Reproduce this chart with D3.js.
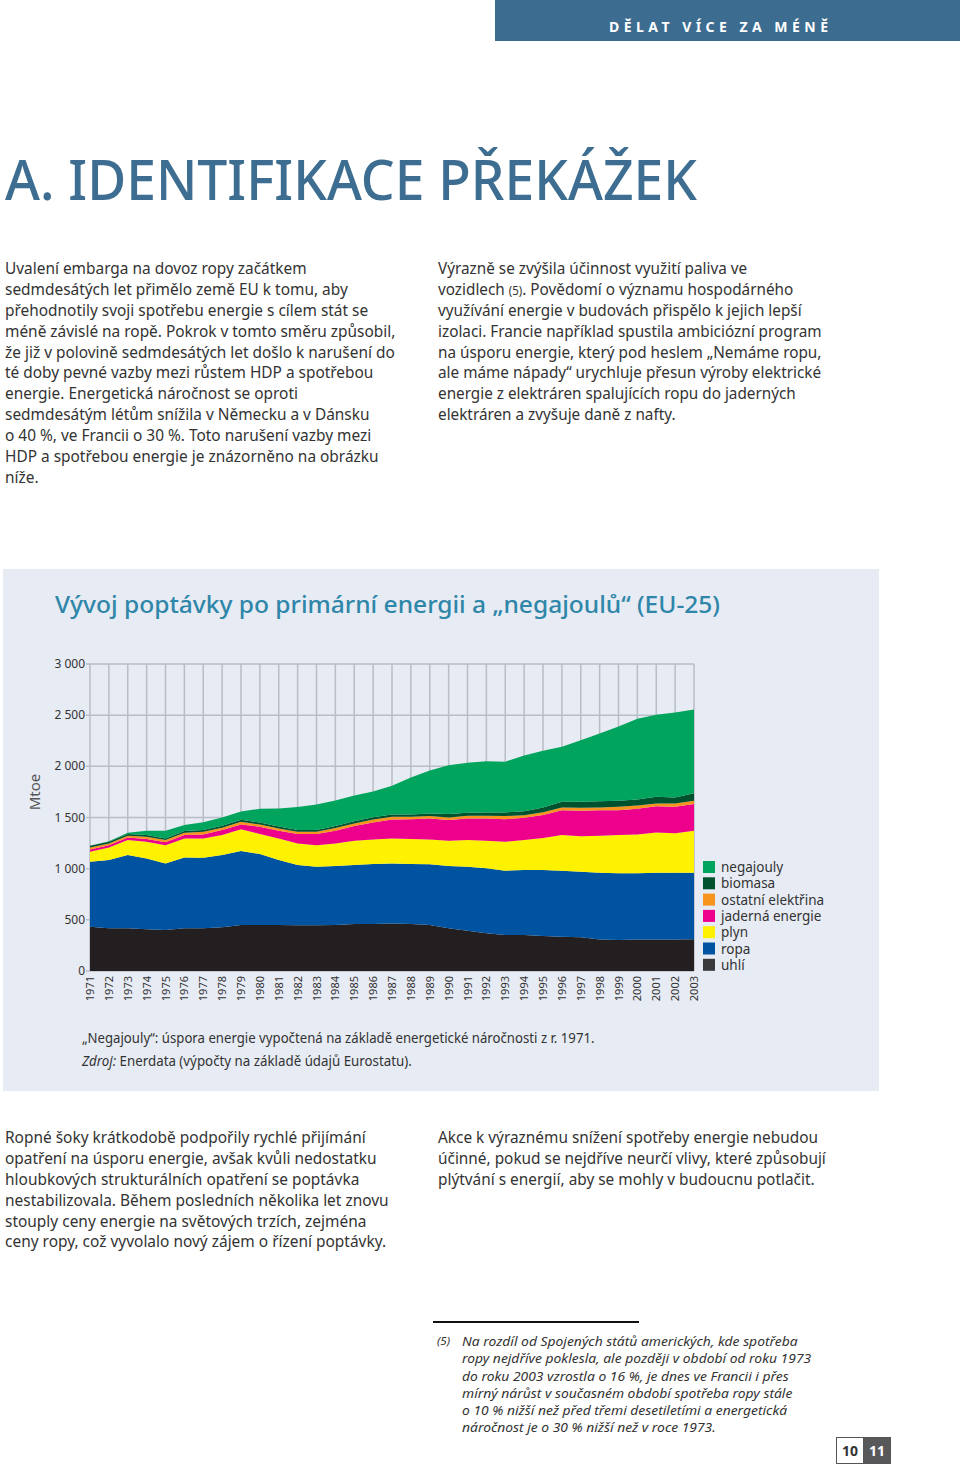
<!DOCTYPE html>
<html><head><meta charset="utf-8">
<script src="https://cdn.jsdelivr.net/npm/d3@7"></script>
<style>body{margin:0;background:#fff} svg{display:block}</style>
</head><body>
<svg id="c" width="960" height="1467"></svg>
<script>
// ---------- DATA ----------
const years = [1971,1972,1973,1974,1975,1976,1977,1978,1979,1980,1981,1982,1983,1984,1985,1986,1987,1988,1989,1990,1991,1992,1993,1994,1995,1996,1997,1998,1999,2000,2001,2002,2003];
const uhli     = [433,417,417,407,400,417,417,427,449,449, 449,446,446,449,459,459,465,459,449,417, 394,368,352,352,342,335,329,309,303,309, 309,309,310];
const ropa     = [635,667,716,693,651,693,690,706,723,694, 635,589,573,576,576,586,586,586,593,608, 625,635,628,634,644,645,641,651,651,645, 651,651,650];
const plyn     = [97,124,146,163,179,186,189,195,212,195, 212,212,211,222,238,241,245,244,244,248, 260,270,283,293,314,348,348,362,374,381, 394,385,410];
const jaderna  = [23,22,26,26,27,32,39,49,48,72, 75,91,108,124,143,166,185,195,205,202, 212,218,221,218,225,244,248,250,244,250, 257,260,261];
const ostatni  = [20,17,16,23,22,23,26,23,26,22, 22,23,23,26,26,29,26,23,23,26, 26,26,30,26,27,26,29,26,33,33, 26,32,32];
const biomasa  = [16,16,18,17,17,18,18,19,21,18, 18,17,17,19,22,21,23,23,26,32, 29,33,36,39,46,56,59,62,58,58, 65,59,73];
const negajouly= [0,5,12,41,74,57,74,81,80,135, 176,224,248,251,250,253,280,360,420,477, 490,500,496,544,555,537,602,661,727,789, 803,830,819];

const seriesKeys   = ["uhli","ropa","plyn","jaderna","ostatni","biomasa","negajouly"];
const seriesLabels = ["uhlí","ropa","plyn","jaderná energie","ostatní elektřina","biomasa","negajouly"];
const seriesColors = ["#231f20","#0053a0","#fff200","#ec008c","#f7941d","#00512e","#00a45c"];
const yTicks = [0,500,1000,1500,2000,2500,3000];
const yTickLabels = ["0","500","1 000","1 500","2 000","2 500","3 000"];

const table = years.map((y,i)=>({year:y, uhli:uhli[i], ropa:ropa[i], plyn:plyn[i], jaderna:jaderna[i], ostatni:ostatni[i], biomasa:biomasa[i], negajouly:negajouly[i]}));

// ---------- TEXT ----------
const para1 = ["Uvalení embarga na dovoz ropy začátkem","sedmdesátých let přimělo země EU k tomu, aby","přehodnotily svoji spotřebu energie s cílem stát se","méně závislé na ropě. Pokrok v tomto směru způsobil,","že již v polovině sedmdesátých let došlo k narušení do","té doby pevné vazby mezi růstem HDP a spotřebou","energie. Energetická náročnost se oproti","sedmdesátým létům snížila v Německu a v Dánsku","o 40 %, ve Francii o 30 %. Toto narušení vazby mezi","HDP a spotřebou energie je znázorněno na obrázku","níže."];
const para2 = ["Výrazně se zvýšila účinnost využití paliva ve","vozidlech (5). Povědomí o významu hospodárného","využívání energie v budovách přispělo k jejich lepší","izolaci. Francie například spustila ambiciózní program","na úsporu energie, který pod heslem „Nemáme ropu,","ale máme nápady“ urychluje přesun výroby elektrické","energie z elektráren spalujících ropu do jaderných","elektráren a zvyšuje daně z nafty."];
const para3 = ["Ropné šoky krátkodobě podpořily rychlé přijímání","opatření na úsporu energie, avšak kvůli nedostatku","hloubkových strukturálních opatření se poptávka","nestabilizovala. Během posledních několika let znovu","stouply ceny energie na světových trzích, zejména","ceny ropy, což vyvolalo nový zájem o řízení poptávky."];
const para4 = ["Akce k výraznému snížení spotřeby energie nebudou","účinné, pokud se nejdříve neurčí vlivy, které způsobují","plýtvání s energií, aby se mohly v budoucnu potlačit."];
const foot = ["Na rozdíl od Spojených států amerických, kde spotřeba","ropy nejdříve poklesla, ale později v období od roku 1973","do roku 2003 vzrostla o 16 %, je dnes ve Francii i přes","mírný nárůst v současném období spotřeba ropy stále","o 10 % nižší než před třemi desetiletími a energetická","náročnost je o 30 % nižší než v roce 1973."];

const FONT = "'Noto Sans', 'Open Sans', sans-serif";
const svg = d3.select("#c");

// header bar
svg.append("rect").attr("x",495).attr("y",0).attr("width",465).attr("height",41).attr("fill","#3c6d90");
svg.append("text").attr("x",609).attr("y",32).attr("font-family",FONT).attr("font-weight",700)
  .attr("font-size",14).attr("fill","#fff").attr("textLength",219).attr("lengthAdjust","spacing")
  .text("DĚLAT VÍCE ZA MÉNĚ");

// main title
svg.append("text").attr("x",5).attr("y",200).attr("font-family",FONT).attr("font-weight",500)
  .attr("font-size",56).attr("fill","#3d6e91").attr("textLength",692).attr("lengthAdjust","spacingAndGlyphs")
  .text("A. IDENTIFIKACE PŘEKÁŽEK");

function block(lines, x, y0, dy, size, refIdx, refWidth, opts={}) {
  const g = svg.append("g");
  const tmp = g.append("text").attr("font-family",FONT).attr("font-size",size)
     .attr("font-style",opts.italic?"italic":"normal").text(lines[refIdx]);
  const nat = tmp.node().getComputedTextLength();
  tmp.remove();
  const f = refWidth/nat;
  g.attr("transform",`translate(${x},0) scale(${f},1)`);
  lines.forEach((l,i)=>{
    const t = g.append("text").attr("x",0).attr("y",y0+dy*i).attr("font-family",FONT)
      .attr("font-size",size).attr("fill",opts.color||"#333")
      .attr("font-style",opts.italic?"italic":"normal");
    if (opts.sup && l.includes("(5)")) {
      const parts = l.split("(5)");
      t.append("tspan").text(parts[0]);
      t.append("tspan").attr("font-size",size*0.75).text("(5)");
      t.append("tspan").text(parts[1]);
    } else t.text(l);
  });
  return g;
}
block(para1, 5, 274, 20.9, 16, 4, 390);
block(para2, 438, 274, 20.9, 16, 3, 384, {sup:true});
block(para3, 5, 1143, 20.9, 16, 3, 384);
block(para4, 438, 1143, 20.9, 16, 1, 388);
block(foot, 462, 1346, 17.3, 13.5, 0, 336, {italic:true});
svg.append("text").attr("x",437).attr("y",1345).attr("font-family",FONT).attr("font-style","italic")
  .attr("font-size",11.5).attr("fill","#333").text("(5)");
svg.append("line").attr("x1",433).attr("x2",639).attr("y1",1322).attr("y2",1322).attr("stroke","#111").attr("stroke-width",2);

// page numbers
svg.append("rect").attr("x",836.5).attr("y",1437.5).attr("width",27).attr("height",26).attr("fill","#fff").attr("stroke","#555").attr("stroke-width",1);
svg.append("rect").attr("x",863.5).attr("y",1437.5).attr("width",27).attr("height",26).attr("fill","#58585a").attr("stroke","#555").attr("stroke-width",1);
svg.append("text").attr("x",850).attr("y",1456).attr("text-anchor","middle").attr("font-family",FONT).attr("font-weight",700).attr("font-size",14).attr("fill","#333").text("10");
svg.append("text").attr("x",877).attr("y",1456).attr("text-anchor","middle").attr("font-family",FONT).attr("font-weight",700).attr("font-size",14).attr("fill","#fff").text("11");

// ---------- CHART ----------
svg.append("rect").attr("x",3).attr("y",569).attr("width",876).attr("height",522).attr("fill","#e7ebf4");
svg.append("text").attr("x",55).attr("y",613).attr("font-family",FONT).attr("font-weight",500)
  .attr("font-size",24).attr("fill","#2e86a8").attr("textLength",665).attr("lengthAdjust","spacingAndGlyphs")
  .text("Vývoj poptávky po primární energii a „negajoulů“ (EU-25)");

const x = d3.scaleLinear().domain([years[0], years[years.length-1]]).range([90,694]);
const y = d3.scaleLinear().domain([0,3000]).range([971,664]);

const grid = svg.append("g").attr("stroke","#b9bdc6").attr("stroke-width",1.5);
grid.selectAll(".h").data(yTicks).join("line").attr("x1",86).attr("x2",694)
  .attr("y1",d=>y(d)).attr("y2",d=>y(d));
grid.selectAll(".v").data(years).join("line").attr("x1",d=>x(d)).attr("x2",d=>x(d))
  .attr("y1",y(3000)).attr("y2",y(0));

const stack = d3.stack().keys(seriesKeys)(table);
const area = d3.area().x(d=>x(d.data.year)).y0(d=>y(d[0])).y1(d=>y(d[1]));
svg.append("g").selectAll("path").data(stack).join("path")
  .attr("d",area).attr("fill",(d,i)=>seriesColors[i]);

// y axis labels
svg.append("g").selectAll("text").data(yTicks).join("text")
  .attr("x",85).attr("y",d=>y(d)+4).attr("text-anchor","end").attr("font-family",FONT)
  .attr("font-size",12).attr("fill","#333").text((d,i)=>yTickLabels[i]);

// year labels
svg.append("g").selectAll("text").data(years).join("text")
  .attr("transform",d=>`translate(${x(d)+4},976) rotate(-90)`).attr("text-anchor","end")
  .attr("font-family",FONT).attr("font-size",11).attr("fill","#333").text(d=>d);

svg.append("text").attr("transform","translate(40,792) rotate(-90)").attr("text-anchor","middle")
  .attr("font-family",FONT).attr("font-size",15).attr("fill","#555").text("Mtoe");

// legend (top-down: reverse order)
const legOrder = seriesKeys.map((k,i)=>i).reverse();
const leg = svg.append("g");
legOrder.forEach((si,j)=>{
  const cy = 867 + j*16.3;
  leg.append("rect").attr("x",703).attr("y",cy-6).attr("width",12).attr("height",12).attr("fill",si===0?"#3a3a3c":seriesColors[si]);
  leg.append("text").attr("x",721).attr("y",cy+5).attr("font-family",FONT).attr("font-size",13.5).attr("fill","#333").text(seriesLabels[si]);
});

// notes
block(["„Negajouly“: úspora energie vypočtená na základě energetické náročnosti z r. 1971."], 82, 1043, 0, 14, 0, 513);
const note2 = svg.append("g");
{
  const t = note2.append("text").attr("x",0).attr("y",1066).attr("font-family",FONT).attr("font-size",14).attr("fill","#333");
  t.append("tspan").attr("font-style","italic").text("Zdroj:");
  t.append("tspan").text(" Enerdata (výpočty na základě údajů Eurostatu).");
  const nat = t.node().getComputedTextLength();
  note2.attr("transform",`translate(82,0) scale(${330/nat},1)`);
}
</script>
</body></html>
